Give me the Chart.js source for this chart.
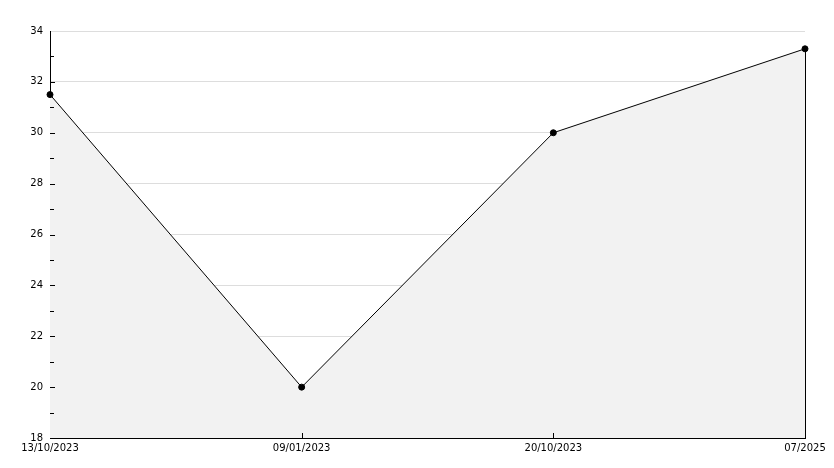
<!DOCTYPE html>
<html>
<head>
<meta charset="utf-8">
<script src="https://cdn.jsdelivr.net/npm/chart.js@4/dist/chart.umd.min.js"></script>
<style>
  html, body { margin: 0; padding: 0; background: #fff; }
  #wrap { width: 834px; height: 468px; position: relative; }
</style>
</head>
<body>
<div id="wrap"><canvas id="chart"></canvas></div>
<script>
// --- data ---
const dateLabels = ['13/10/2023', '09/01/2023', '20/10/2023', '07/2025'];
const values = [31.5, 20, 30, 33.3];
const yMin = 18;
const yMax = 34;

// ticks drawn inside the axes + right edge of the filled area
const innerTicks = {
  id: 'innerTicks',
  afterDatasetsDraw(chart) {
    const ctx = chart.ctx;
    const x = chart.scales.x, y = chart.scales.y;
    const area = chart.chartArea;
    ctx.save();
    ctx.strokeStyle = '#000';
    ctx.lineWidth = 1;
    ctx.beginPath();
    // y major + minor ticks
    for (let v = yMin + 1; v < yMax; v++) {
      const py = Math.round(y.getPixelForValue(v)) + 0.5;
      const len = (v % 2 === 0) ? 5 : 4;
      ctx.moveTo(area.left, py);
      ctx.lineTo(area.left + len, py);
    }
    // x ticks
    for (let i = 1; i < dateLabels.length - 1; i++) {
      const px = Math.round(x.getPixelForValue(i)) + 0.5;
      ctx.moveTo(px, area.bottom);
      ctx.lineTo(px, area.bottom - 5);
    }
    // right edge of the fill
    const last = values.length - 1;
    const rx = Math.round(x.getPixelForValue(last)) + 0.5;
    ctx.moveTo(rx, y.getPixelForValue(values[last]));
    ctx.lineTo(rx, area.bottom);
    ctx.stroke();
    ctx.restore();
  }
};

new Chart(document.getElementById('chart'), {
  type: 'line',
  data: {
    labels: dateLabels,
    datasets: [{
      data: values,
      borderColor: '#000',
      borderWidth: 1,
      backgroundColor: '#f2f2f2',
      fill: 'start',
      tension: 0,
      pointRadius: 3,
      pointBackgroundColor: '#000',
      pointBorderColor: '#000',
      pointBorderWidth: 1
    }]
  },
  options: {
    responsive: true,
    maintainAspectRatio: false,
    animation: false,
    layout: { padding: { top: 31, right: 29, left: 0, bottom: 0 } },
    plugins: {
      legend: { display: false },
      tooltip: { enabled: false }
    },
    scales: {
      x: {
        offset: false,
        grid: { display: false, drawTicks: false },
        border: { color: '#000', width: 1 },
        ticks: {
          color: '#000',
          font: { family: 'DejaVu Sans', size: 10 },
          padding: 4,
          maxRotation: 0,
          autoSkip: false
        },
        afterFit(scale) { scale.height = 30; }
      },
      y: {
        min: yMin,
        max: yMax,
        grid: { color: '#dddddd', drawTicks: false },
        border: { color: '#000', width: 1 },
        ticks: {
          stepSize: 2,
          color: '#000',
          font: { family: 'DejaVu Sans', size: 10 },
          padding: 7
        },
        afterFit(scale) { scale.width = 50; }
      }
    }
  },
  plugins: [innerTicks]
});
</script>
</body>
</html>
